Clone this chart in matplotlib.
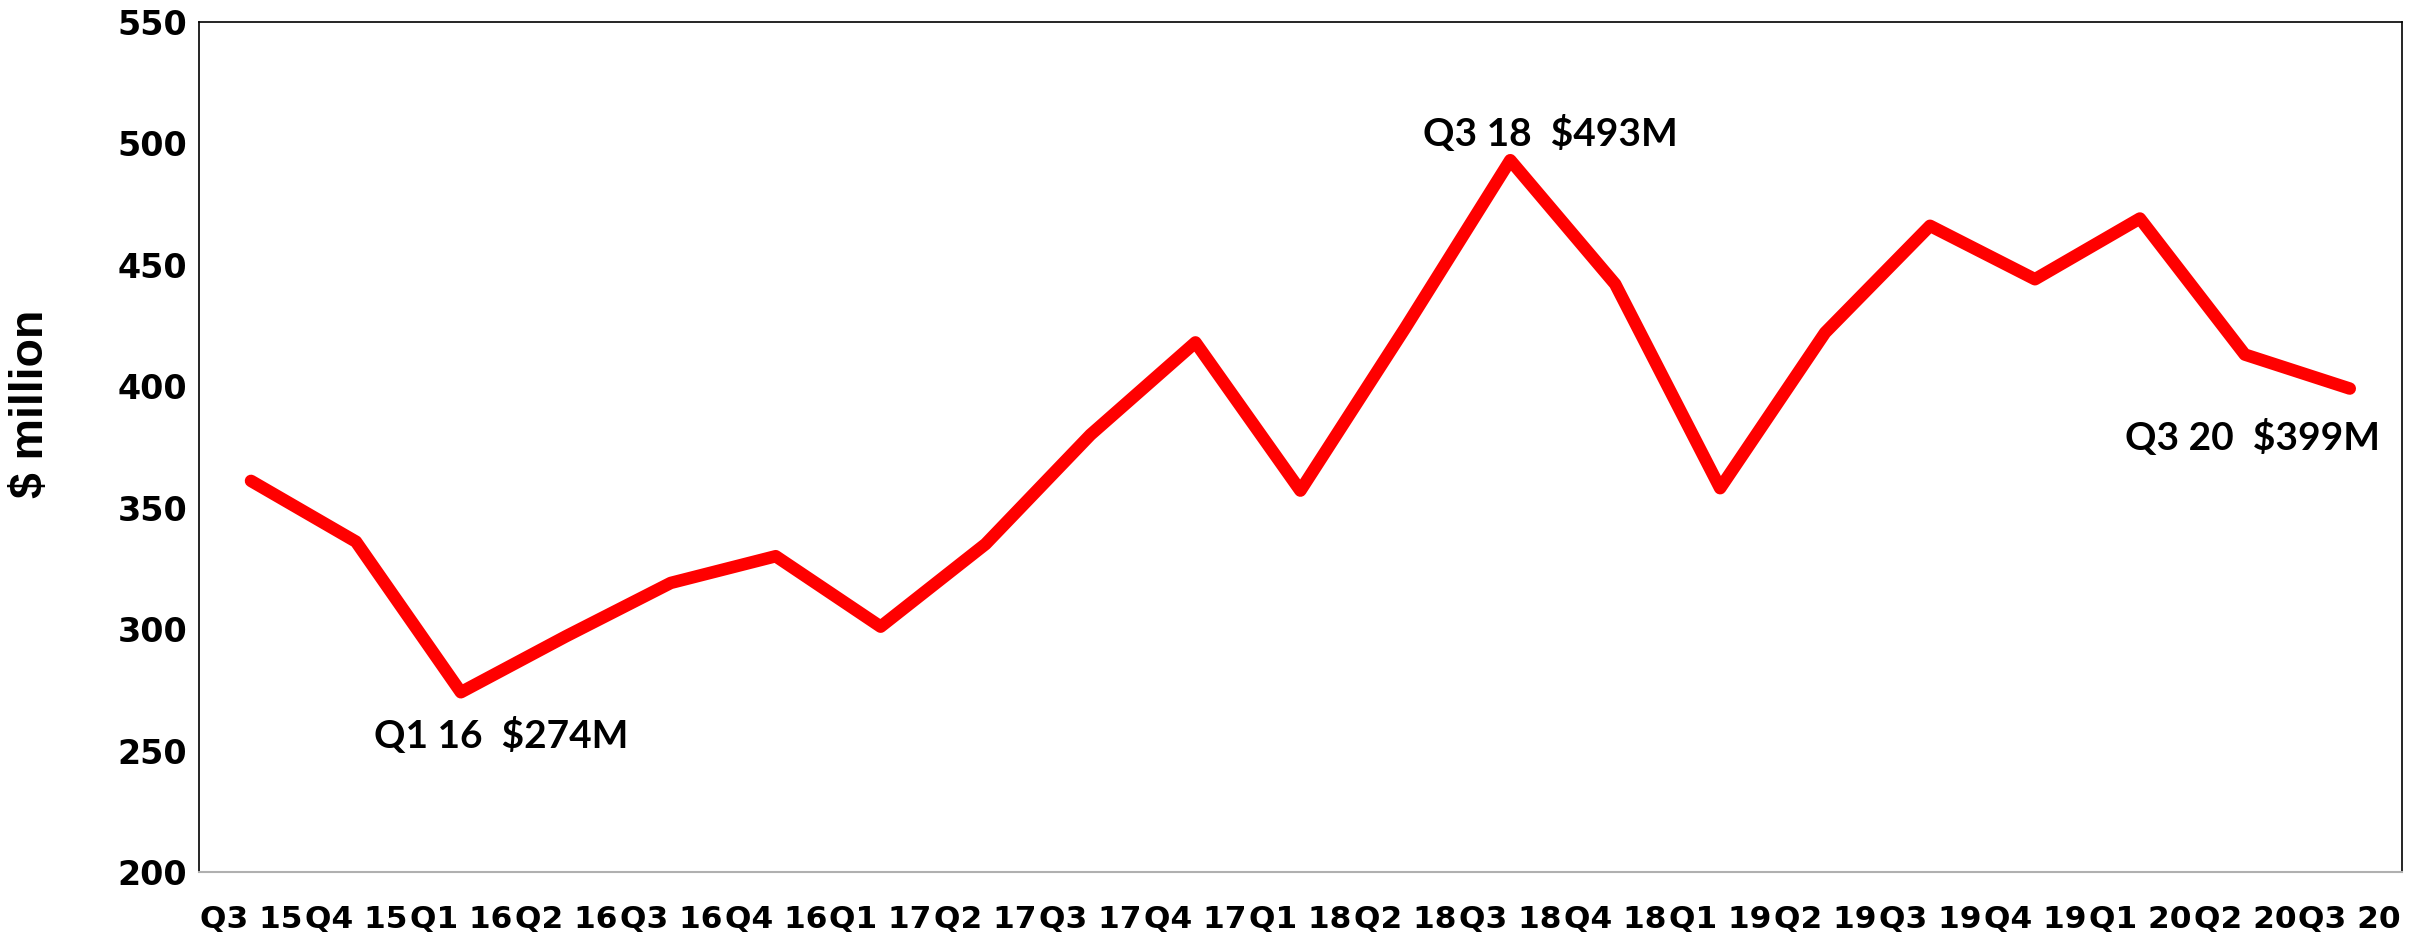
import matplotlib
matplotlib.use("Agg")
import matplotlib.pyplot as plt

quarters = ["Q3 15", "Q4 15", "Q1 16", "Q2 16", "Q3 16", "Q4 16", "Q1 17",
            "Q2 17", "Q3 17", "Q4 17", "Q1 18", "Q2 18", "Q3 18", "Q4 18",
            "Q1 19", "Q2 19", "Q3 19", "Q4 19", "Q1 20", "Q2 20", "Q3 20"]
values = [361, 336, 274, 297, 319, 330, 301, 335, 380, 418, 357, 424, 493,
          442, 358, 422, 466, 444, 469, 413, 399]
y_ticks = [200, 250, 300, 350, 400, 450, 500, 550]

annotations = [
    ("Q1 16  $274M", 2.38, 256),
    ("Q3 18  $493M", 12.38, 504),
    ("Q3 20  $399M", 19.07, 379),
]

fig = plt.figure(figsize=(24.27, 9.40), dpi=100)
ax = fig.add_axes([0.0818, 0.0723, 0.9080, 0.9046])

x = list(range(len(quarters)))
ax.plot(x, values, color="#ff0000", linewidth=9,
        solid_joinstyle="round", solid_capstyle="round")

ax.set_xlim(-0.5, len(quarters) - 0.5)
ax.set_ylim(200, 550)
ax.set_yticks(y_ticks)
ax.set_xticks(x)
ax.set_xticklabels(quarters)

for lbl in ax.get_xticklabels():
    lbl.set_fontfamily("DejaVu Sans")
    lbl.set_fontweight("bold")
    lbl.set_fontsize(22.5)
for lbl in ax.get_yticklabels():
    lbl.set_fontfamily("DejaVu Sans")
    lbl.set_fontweight("bold")
    lbl.set_fontsize(24)

ax.tick_params(axis="both", length=0)
ax.tick_params(axis="y", pad=8)
ax.tick_params(axis="x", pad=24)

for side in ["top", "left", "right"]:
    ax.spines[side].set_color("black")
    ax.spines[side].set_linewidth(1.2)
ax.spines["bottom"].set_color("#b0b0b0")
ax.spines["bottom"].set_linewidth(1.5)

fig.text(31 / 2427, 1 - 404 / 940, "$ million", rotation=90, ha="center",
         va="center", fontsize=33.5, fontweight="bold",
         family="Liberation Sans")

for text, xv, yv in annotations:
    ax.text(xv, yv, text, ha="center", va="center", fontsize=28,
            fontweight="bold", family="Lato", color="black")

fig.savefig("out.png", dpi=100)
